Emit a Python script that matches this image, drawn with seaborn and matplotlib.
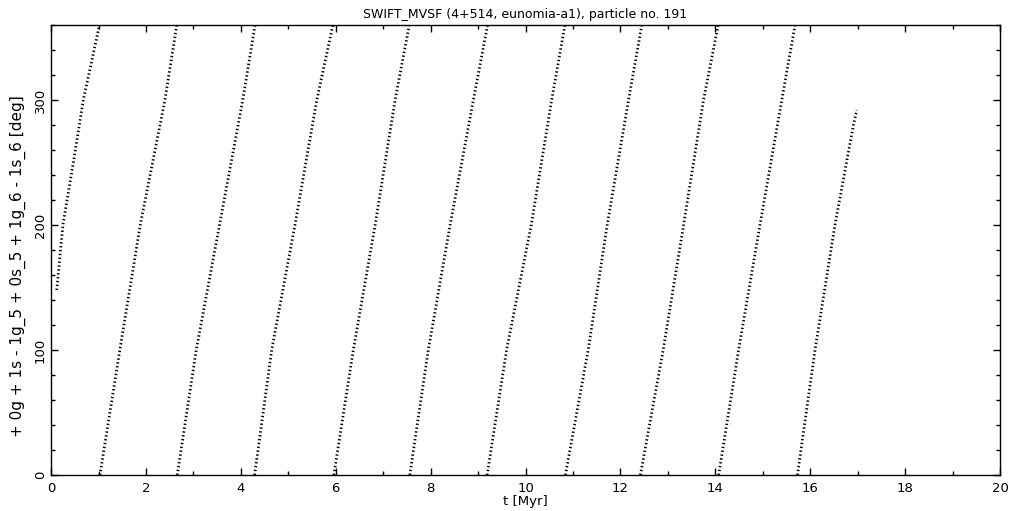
import numpy as np
import pandas as pd
import matplotlib
matplotlib.use('Agg')
import matplotlib.pyplot as plt
from matplotlib.ticker import MultipleLocator
import seaborn as sns

# resonant angle: one list per wrap (0 -> 360 deg)
seg_id = [1, 1, 1, 1, 1,
          2, 2, 2, 2, 2,
          3, 3, 3, 3, 3,
          4, 4, 4, 4, 4,
          5, 5, 5, 5, 5,
          6, 6, 6, 6, 6,
          7, 7, 7, 7, 7,
          8, 8, 8, 8, 8,
          9, 9, 9, 9, 9,
          10, 10, 10, 10, 10,
          11, 11, 11, 11, 11]
t_myr = [0.12, 0.25, 0.47, 0.68, 1.02,
         1.03, 1.45, 1.88, 2.40, 2.65,
         2.66, 3.06, 3.55, 4.04, 4.30,
         4.29, 4.65, 5.14, 5.60, 5.94,
         5.96, 6.37, 6.83, 7.25, 7.55,
         7.56, 7.95, 8.41, 8.90, 9.20,
         9.19, 9.60, 10.12, 10.55, 10.83,
         10.84, 11.32, 11.72, 12.17, 12.45,
         12.42, 12.90, 13.33, 13.75, 14.06,
         14.07, 14.49, 14.94, 15.40, 15.68,
         15.73, 16.10, 16.52, 16.91, 16.98]
angle = [148, 200, 250, 300, 360,
         0, 100, 200, 300, 360,
         0, 100, 200, 300, 360,
         0, 100, 200, 300, 360,
         0, 100, 200, 300, 360,
         0, 100, 200, 300, 360,
         0, 100, 200, 300, 360,
         0, 100, 200, 300, 360,
         0, 100, 200, 300, 360,
         0, 100, 200, 300, 360,
         0, 100, 200, 280, 292]

df = pd.DataFrame({'t': t_myr, 'phi': angle, 'seg': seg_id})

sns.set_style('ticks')
plt.rcParams['font.family'] = ['DejaVu Sans']
plt.rcParams['text.color'] = 'black'
plt.rcParams['axes.labelcolor'] = 'black'
plt.rcParams['xtick.color'] = 'black'
plt.rcParams['ytick.color'] = 'black'

fig = plt.figure(figsize=(10.21, 5.11), dpi=100)
ax = fig.add_axes([0.05, 0.0705, 0.9295, 0.8805])

sns.lineplot(data=df, x='t', y='phi', units='seg', estimator=None, sort=False,
             color='black', linewidth=2.0, linestyle=(0, (0.5, 0.9)), ax=ax)

ax.set_xlim(0, 20)
ax.set_ylim(0, 360)
ax.xaxis.set_major_locator(MultipleLocator(2))
ax.xaxis.set_minor_locator(MultipleLocator(1))
ax.yaxis.set_major_locator(MultipleLocator(100))
ax.yaxis.set_minor_locator(MultipleLocator(20))
ax.tick_params(which='both', direction='in', top=True, right=True,
               width=1, color='black', labelsize=9.5, pad=5)
ax.tick_params(axis='y', pad=3)
ax.tick_params(which='major', length=5)
ax.tick_params(which='minor', length=3)
for lbl in ax.get_yticklabels():
    lbl.set_rotation(90)
    lbl.set_va('center')
for s in ax.spines.values():
    s.set_linewidth(1)
    s.set_color('black')

ax.set_title('SWIFT_MVSF (4+514, eunomia-a1), particle no. 191', fontsize=9, pad=5)
ax.set_xlabel('t [Myr]', fontsize=9.5)
ax.set_ylabel('+ 0g + 1s - 1g_5 + 0s_5 + 1g_6 - 1s_6 [deg]', fontsize=11)
ax.yaxis.set_label_coords(-0.026, 0.464)
ax.xaxis.set_label_coords(0.5, -0.045)

fig.savefig('out.png', dpi=100)
